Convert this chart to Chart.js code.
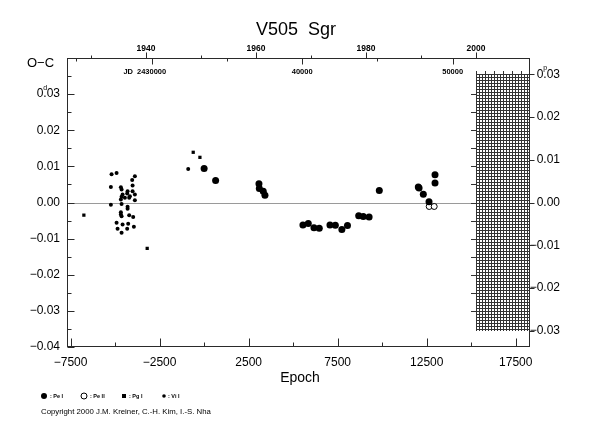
<!DOCTYPE html>
<html><head><meta charset="utf-8">
<script src="https://cdn.jsdelivr.net/npm/chart.js@4.4.0/dist/chart.umd.min.js"></script>
<style>html,body{margin:0;padding:0;background:#fff}#wrap{width:590px;height:425px;position:relative}</style>
</head><body><div id="wrap"><canvas id="c" width="590" height="425"></canvas></div>
<script>
// ---------- data ----------
const titleText = 'V505  Sgr';
const xLabel = 'Epoch';
const yLabel = 'O\u2212C';
const copyrightText = 'Copyright 2000 J.M. Kreiner, C.-H. Kim, I.-S. Nha';

const peI_epoch = [0, 646, 3079, 3100, 3320, 3416, 5549, 5849, 6169, 6466, 7067, 7370, 7735, 8050, 8680, 8938, 9265, 9837, 12028, 12070, 12309, 12629, 12966, 12966];
const peI_oc    = [0.0094, 0.0061, 0.0052, 0.0039, 0.0031, 0.0020, -0.0062, -0.0058, -0.0070, -0.0071, -0.0062, -0.0063, -0.0075, -0.0064, -0.0037, -0.0039, -0.0040, 0.0033, 0.0043, 0.0040, 0.0023, 0.0002, 0.0077, 0.0054];

const peII_epoch = [12640, 12920];
const peII_oc    = [-0.0011, -0.0011];

const pgI_epoch = [-6753, -3197, -612, -236];
const pgI_oc    = [-0.0035, -0.0127, 0.0139, 0.0125];

const viI_epoch = [-893, -5197, -4916, -3888, -4039, -5236, -4674, -4635, -4017, -4298, -4017, -4579, -4320, -4169, -3888, -4635, -4449, -4208, -3888, -4674, -5236, -4635, -4298, -4298, -4674, -4674, -4635, -4208, -3983, -4916, -4579, -4264, -3944, -4860, -4320, -4635];
const viI_oc    = [0.0093, 0.0078, 0.0082, 0.0073, 0.0062, 0.0043, 0.0042, 0.0036, 0.0047, 0.0031, 0.0031, 0.0022, 0.0025, 0.0017, 0.0022, 0.0016, 0.0013, 0.0013, 0.0006, 0.0008, -0.0006, -0.0004, -0.0012, -0.0017, -0.0027, -0.0033, -0.0038, -0.0035, -0.0040, -0.0056, -0.0061, -0.0059, -0.0067, -0.0073, -0.0073, -0.0084];

const xTicks = [-7500, -2500, 2500, 7500, 12500, 17500];
const xMinorTicks = [-5000, 0, 5000, 10000, 15000];
const yTicksLeft = [0.03, 0.02, 0.01, 0.00, -0.01, -0.02, -0.03, -0.04];
const yTicksRight = [0.03, 0.02, 0.01, 0.00, -0.01, -0.02, -0.03];
const yearTicks = [1940, 1960, 1980, 2000];
const yearMinorTicks = [1930, 1950, 1970, 1990];
const jdTicks = [30000, 40000, 50000];      // JD - 2400000
const jdMinorTicks = [25000, 35000, 45000];
const legendLabels = [': Pe I', ': Pe II', ': Pg I', ': Vi I'];

const PERIOD = 1.18287;
const JD0 = 2433488.3;
// ---------- helpers ----------
const jdToEpoch = jd => (jd - JD0) / PERIOD;
const yearToEpoch = yr => jdToEpoch(2451544.5 + (yr - 2000) * 365.25);
const fmt = (v, d) => { const s = Math.abs(v).toFixed(d); return (v < -1e-9 ? '\u2212' : '') + s; };
const pts = (ex, ey) => ex.map((e, i) => ({x: e, y: ey[i]}));
const FONT = '"Liberation Sans", Arial, Helvetica, sans-serif';

const deco = {
  id: 'deco',
  beforeDatasetsDraw(chart) {
    const {ctx, chartArea: a, scales: {x, y, y2}} = chart;
    ctx.save();
    // zero line
    const y0 = Math.round(y.getPixelForValue(0)) + 0.5;
    ctx.strokeStyle = '#9a9a9a'; ctx.lineWidth = 1;
    ctx.beginPath(); ctx.moveTo(a.left, y0); ctx.lineTo(a.right, y0); ctx.stroke();
    // hatched future area
    const hx0 = Math.round(x.getPixelForValue(yearToEpoch(2000)));
    const hy0 = Math.round(y2.getPixelForValue(0.03));
    const hy1 = Math.round(y2.getPixelForValue(-0.03));
    ctx.fillStyle = '#fff'; ctx.fillRect(hx0, hy0, a.right - hx0, hy1 - hy0);
    ctx.strokeStyle = '#333'; ctx.lineWidth = 1;
    ctx.beginPath();
    for (let px = hx0 + 0.5; px <= a.right; px += 3) { ctx.moveTo(px, hy0); ctx.lineTo(px, hy1); }
    for (let py = hy0 + 0.5; py <= hy1 + 0.6; py += 3) { ctx.moveTo(hx0, py); ctx.lineTo(a.right, py); }
    // ticks left of hatch
    for (let v = 0.03; v >= -0.0301; v -= 0.005) {
      const py = Math.round(y.getPixelForValue(v)) + 0.5;
      if (py < hy0 - 1 || py > hy1 + 1) continue;
      ctx.moveTo(hx0 - 5, py); ctx.lineTo(hx0, py);
    }
    for (let px = hx0 + 0.5; px <= a.right; px += 9) { ctx.moveTo(px, hy0 - 3); ctx.lineTo(px, hy0); }
    ctx.stroke();
    ctx.restore();
  },
  afterDraw(chart) {
    const {ctx, chartArea: a, scales: {x, y, y2}} = chart;
    ctx.save();
    const L = Math.round(a.left) + 0.5, R = Math.round(a.right) - 0.5, T = Math.round(a.top) + 0.5, B = Math.round(a.bottom) - 0.5;
    ctx.strokeStyle = '#2a2a2a'; ctx.lineWidth = 1;
    ctx.strokeRect(L, T, R - L, B - T);
    ctx.beginPath();
    // bottom ticks
    xTicks.forEach(v => { const p = Math.round(x.getPixelForValue(v)) + 0.5; ctx.moveTo(p, B); ctx.lineTo(p, B - 8); });
    xMinorTicks.forEach(v => { const p = Math.round(x.getPixelForValue(v)) + 0.5; ctx.moveTo(p, B); ctx.lineTo(p, B - 4); });
    // left ticks
    for (let i = -8; i <= 8; i++) {
      const v = i * 0.005; const p = Math.round(y.getPixelForValue(v)) + 0.5;
      const len = (i % 2 === 0) ? 7 : 4;
      ctx.moveTo(L, p); ctx.lineTo(L + len, p);
    }
    // right outward ticks
    yTicksRight.forEach(v => { const p = Math.round(y2.getPixelForValue(v)) + 0.5; ctx.moveTo(R, p); ctx.lineTo(R + 5, p); });
    // top: years (outward), JD (inward)
    yearTicks.forEach(yr => { const p = Math.round(x.getPixelForValue(yearToEpoch(yr))) + 0.5; ctx.moveTo(p, T); ctx.lineTo(p, T - 6); });
    yearMinorTicks.forEach(yr => { const p = Math.round(x.getPixelForValue(yearToEpoch(yr))) + 0.5; ctx.moveTo(p, T); ctx.lineTo(p, T - 3); });
    jdTicks.forEach(j => { const p = Math.round(x.getPixelForValue(jdToEpoch(2400000 + j))) + 0.5; ctx.moveTo(p, T); ctx.lineTo(p, T + 6); });
    jdMinorTicks.forEach(j => { const p = Math.round(x.getPixelForValue(jdToEpoch(2400000 + j))) + 0.5; ctx.moveTo(p, T); ctx.lineTo(p, T + 3); });
    ctx.stroke();

    ctx.fillStyle = '#000';
    ctx.textBaseline = 'middle';
    // title
    ctx.font = '18px ' + FONT; ctx.textAlign = 'center';
    ctx.fillText(titleText, 296, 30);
    // axis titles
    ctx.font = '14px ' + FONT;
    ctx.fillText(xLabel, 300, 378);
    ctx.font = '13px ' + FONT; ctx.textAlign = 'left';
    ctx.fillText(yLabel, 27, 63);
    // top year labels
    ctx.font = 'bold 8.5px ' + FONT; ctx.textAlign = 'center';
    yearTicks.forEach(yr => ctx.fillText(String(yr), x.getPixelForValue(yearToEpoch(yr)), 49));
    // JD labels
    ctx.font = 'bold 7.5px ' + FONT;
    jdTicks.forEach((j, i) => {
      const p = x.getPixelForValue(jdToEpoch(2400000 + j));
      const t = i === 0 ? String(2400000 + j) : String(j);
      ctx.textAlign = 'center'; ctx.fillText(t, p, 72);
      if (i === 0) { const w = ctx.measureText(t).width; ctx.textAlign = 'right'; ctx.fillText('JD', p - w / 2 - 4, 72); }
    });
    // superscript units
    ctx.font = '12px ' + FONT;
    const lab = '0.03';
    const wFull = ctx.measureText(lab).width, w0 = ctx.measureText('0').width;
    const yl = y.getPixelForValue(0.03), yr2 = y2.getPixelForValue(0.03);
    const leftStart = y.right - 7 - wFull;
    const rightStart = y2.right - wFull;
    ctx.font = '7px ' + FONT; ctx.textAlign = 'center';
    ctx.fillText('d', leftStart + w0 + 1.8, yl - 6);
    ctx.fillText('p', rightStart + w0 + 1.8, yr2 - 6);
    // legend
    const ly = 396;
    ctx.beginPath(); ctx.arc(44, ly, 3, 0, Math.PI * 2); ctx.fill();
    ctx.beginPath(); ctx.arc(84, ly, 3, 0, Math.PI * 2); ctx.lineWidth = 1; ctx.strokeStyle = '#000'; ctx.stroke();
    ctx.fillRect(122, ly - 2, 4, 4);
    ctx.beginPath(); ctx.arc(164, ly, 1.8, 0, Math.PI * 2); ctx.fill();
    ctx.font = 'bold 5.5px ' + FONT; ctx.textAlign = 'left';
    [50, 90, 129, 168].forEach((lx, i) => ctx.fillText(legendLabels[i], lx, ly));
    ctx.font = '7.8px ' + FONT;
    ctx.fillText(copyrightText, 41, 412);
    ctx.restore();
  }
};

new Chart(document.getElementById('c'), {
  type: 'scatter',
  data: {
    datasets: [
      {label: 'Pe I', data: pts(peI_epoch, peI_oc), pointRadius: 3.5, backgroundColor: '#000', borderWidth: 0, pointHoverRadius: 3.5},
      {label: 'Pe II', data: pts(peII_epoch, peII_oc), pointRadius: 3, backgroundColor: '#fff', borderColor: '#000', borderWidth: 1},
      {label: 'Pg I', data: pts(pgI_epoch, pgI_oc), pointStyle: 'rect', pointRadius: 2.3, backgroundColor: '#000', borderWidth: 0},
      {label: 'Vi I', data: pts(viI_epoch, viI_oc), pointRadius: 2, backgroundColor: '#000', borderWidth: 0}
    ]
  },
  options: {
    responsive: false, animation: false, devicePixelRatio: 1,
    layout: {padding: {top: 58, left: 0, right: 30, bottom: 0}},
    plugins: {legend: {display: false}, tooltip: {enabled: false}, title: {display: false}},
    scales: {
      x: {
        type: 'linear', position: 'bottom', min: -7700, max: 18300,
        afterBuildTicks: s => { s.ticks = xTicks.map(v => ({value: v})); },
        afterFit: s => { s.height = 78; },
        grid: {display: false, drawTicks: false}, border: {display: false},
        ticks: {font: {size: 12, family: FONT}, color: '#000', padding: 8, maxRotation: 0, autoSkip: false, callback: v => fmt(v, 0)}
      },
      y: {
        type: 'linear', position: 'left', min: -0.04, max: 0.04,
        afterBuildTicks: s => { s.ticks = yTicksLeft.map(v => ({value: v})); },
        afterFit: s => { s.width = 67; },
        grid: {display: false, drawTicks: false}, border: {display: false},
        ticks: {font: {size: 12, family: FONT}, color: '#000', padding: 7, autoSkip: false, callback: v => fmt(v, 2)}
      },
      y2: {
        type: 'linear', position: 'right', min: -0.04 / PERIOD, max: 0.04 / PERIOD,
        afterBuildTicks: s => { s.ticks = yTicksRight.map(v => ({value: v})); },
        afterFit: s => { s.width = 30; },
        grid: {display: false, drawTicks: false}, border: {display: false},
        ticks: {font: {size: 12, family: FONT}, color: '#000', padding: 2, crossAlign: 'far', autoSkip: false, callback: v => fmt(v, 2)}
      }
    }
  },
  plugins: [deco]
});
</script>
</body></html>
